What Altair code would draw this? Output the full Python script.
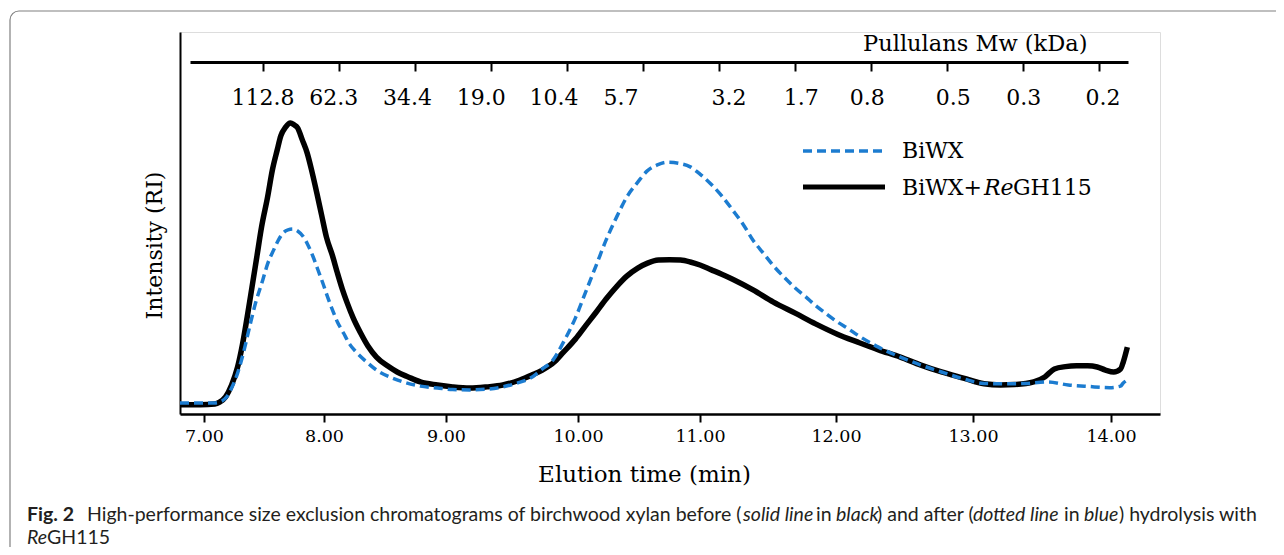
import altair as alt
import pandas as pd

# ---------------- data ----------------
# BiWX (blue dashed)
biwx_time = [6.80, 7.09, 7.15, 7.19, 7.23, 7.28, 7.33, 7.38, 7.43, 7.49, 7.53, 7.58, 7.62, 7.66, 7.70,
             7.74, 7.78, 7.83, 7.87, 7.91, 7.95, 7.99, 8.03, 8.07, 8.11, 8.16, 8.21, 8.27, 8.35, 8.43,
             8.54, 8.65, 8.79, 8.93, 9.05, 9.18, 9.31, 9.43, 9.54, 9.64, 9.73, 9.81, 9.89, 9.98, 10.06,
             10.15, 10.23, 10.32, 10.40, 10.49, 10.57, 10.65, 10.73, 10.83, 10.92, 11.00, 11.08, 11.16,
             11.24, 11.32, 11.39, 11.47, 11.54, 11.63, 11.70, 11.78, 11.85, 11.93, 12.01, 12.09, 12.16,
             12.31, 12.47, 12.62, 12.77, 12.93, 13.08, 13.23, 13.38, 13.54, 13.69, 13.84, 13.99, 14.07,
             14.09, 14.12]
biwx_int = [2.9, 2.9, 3.4, 4.5, 6.8, 10.7, 16.2, 22.8, 29.1, 35.1, 39.3, 42.9, 45.5, 47.4, 48.2,
            48.4, 47.9, 46.3, 44.0, 41.1, 37.7, 34.3, 30.6, 27.2, 24.1, 21.2, 18.3, 16.0, 13.6, 11.5,
            9.7, 8.4, 7.3, 6.8, 6.4, 6.3, 6.5, 7.1, 8.1, 9.4, 11.8, 14.1, 18.8, 25.1, 31.7,
            39.0, 45.5, 51.8, 56.8, 60.7, 63.7, 65.2, 65.9, 65.6, 64.7, 62.8, 60.2, 57.1,
            53.4, 49.5, 45.5, 41.9, 38.8, 35.4, 33.0, 30.6, 28.4, 26.2, 24.1, 22.3, 20.6,
            17.5, 14.9, 12.8, 11.0, 9.2, 8.0, 7.9, 8.0, 8.4, 7.6, 7.2, 6.9, 7.3,
            8.1, 8.9]

# BiWX + ReGH115 (black solid)
re_time = [6.80, 6.97, 7.09, 7.13, 7.18, 7.23, 7.28, 7.32, 7.36, 7.40, 7.44, 7.48, 7.53, 7.57, 7.61,
           7.64, 7.68, 7.72, 7.75, 7.78, 7.82, 7.86, 7.90, 7.94, 7.98, 8.02, 8.07, 8.11, 8.15, 8.19,
           8.24, 8.30, 8.36, 8.43, 8.52, 8.60, 8.69, 8.79, 8.93, 9.05, 9.18, 9.31, 9.43, 9.56, 9.65,
           9.73, 9.82, 9.89, 9.98, 10.06, 10.15, 10.23, 10.32, 10.40, 10.49, 10.57, 10.66, 10.75,
           10.84, 10.92, 11.00, 11.08, 11.16, 11.24, 11.39, 11.54, 11.70, 11.85, 12.01, 12.16, 12.31,
           12.47, 12.62, 12.77, 12.93, 13.08, 13.20, 13.30, 13.44, 13.52, 13.59, 13.67, 13.75, 13.83,
           13.90, 13.96, 14.02, 14.07, 14.09, 14.12]
re_int = [2.4, 2.4, 2.6, 3.1, 4.5, 7.6, 12.3, 18.1, 25.4, 33.2, 41.1, 49.0, 56.8, 63.9, 69.1,
          72.8, 75.1, 76.2, 75.7, 74.9, 71.7, 68.3, 63.4, 57.9, 52.1, 46.3, 41.4, 36.9, 32.7, 29.1,
          25.1, 21.2, 17.8, 14.9, 12.6, 11.0, 9.7, 8.4, 7.6, 7.1, 6.8, 7.1, 7.6, 8.9, 10.2,
          11.5, 13.6, 16.2, 19.6, 23.0, 26.7, 30.1, 33.5, 36.1, 38.2, 39.5, 40.3, 40.4,
          40.3, 39.8, 39.0, 37.8, 36.6, 35.3, 32.5, 29.3, 26.4, 23.6, 20.9, 18.8, 16.8,
          14.9, 12.8, 11.0, 9.4, 7.9, 7.6, 7.7, 8.4, 9.7, 11.8, 12.4, 12.6, 12.6,
          12.3, 11.5, 11.0, 11.8, 13.6, 17.5]

series_names = ["BiWX", "BiWX+ReGH115"]

# bottom axis (elution time); the printed axis is slightly uneven, so a piecewise scale is used
x_tick_values = [7, 8, 9, 10, 11, 12, 13, 14]
x_scale_domain = [6.8, 7, 8, 9, 10, 11, 12, 13, 14, 14.36]
x_scale_range = [0, 24, 144, 266, 398, 520, 656, 793, 931, 980]

# top axis (pullulan standards)
mw_labels = ["112.8", "62.3", "34.4", "19.0", "10.4", "5.7", "3.2", "1.7", "0.8", "0.5", "0.3", "0.2"]
mw_tick_index = list(range(12))
mw_label_pos = [0.0, 0.93, 1.90, 2.87, 3.83, 4.71, 6.13, 7.08, 7.95, 9.08, 10.01, 11.05]

SERIF = "DejaVu Serif"
SANS = "Lato"
BLUE = "#1c7cd0"

df = pd.concat([
    pd.DataFrame({"time": biwx_time, "intensity": biwx_int, "series": series_names[0]}),
    pd.DataFrame({"time": re_time, "intensity": re_int, "series": series_names[1]}),
], ignore_index=True)

mw_df = pd.DataFrame({"label": mw_labels, "pos": mw_label_pos})

W, H = 980, 382

x_enc = alt.X(
    "time:Q",
    scale=alt.Scale(domain=x_scale_domain, range=x_scale_range, nice=False, zero=False),
    axis=alt.Axis(
        values=x_tick_values, format=".2f", grid=False,
        labelFont=SERIF, labelFontSize=17.5, labelColor="black", labelPadding=5, labelFlush=False,
        tickSize=8, tickWidth=2, tickColor="black",
        domainColor="black", domainWidth=2.5,
        title="Elution time (min)", titleFont=SERIF, titleFontSize=23, titleFontWeight="normal",
        titleColor="black", titleX=464, titleY=67, titleBaseline="alphabetic", titleAlign="center",
    ),
)
y_enc = alt.Y(
    "intensity:Q",
    scale=alt.Scale(domain=[0, 100], nice=False, zero=False),
    axis=alt.Axis(
        labels=False, ticks=False, grid=False, domainColor="black", domainWidth=2,
        title="Intensity (RI)", titleFont=SERIF, titleFontSize=22, titleFontWeight="normal",
        titleColor="black", titleX=-26, titleY=213, titleBaseline="middle", titleAlign="center",
    ),
)

black_line = alt.Chart(df).transform_filter(
    alt.datum.series == series_names[1]
).mark_line(color="black", strokeWidth=5.5, interpolate="monotone").encode(x=x_enc, y=y_enc)

blue_line = alt.Chart(df).transform_filter(
    alt.datum.series == series_names[0]
).mark_line(color=BLUE, strokeWidth=3.5, strokeDash=[9, 5], interpolate="monotone").encode(x=x_enc, y=y_enc)

lines = alt.layer(black_line, blue_line)

top_axis = alt.Chart(mw_df).mark_text(
    font=SERIF, fontSize=22, baseline="alphabetic", align="center", color="black"
).encode(
    x=alt.X(
        "pos:Q",
        scale=alt.Scale(domain=[-0.96, 11.38], range=[10, 948], nice=False, zero=False),
        axis=alt.Axis(
            orient="bottom", offset=-352, values=mw_tick_index, labels=False, grid=False,
            tickSize=9, tickWidth=2, tickColor="black", domainColor="black", domainWidth=3,
            title="Pullulans Mw (kDa)", titleFont=SERIF, titleFontSize=22.5, titleFontWeight="normal",
            titleColor="black", titleAlign="right", titleX=907, titleY=-12, titleBaseline="alphabetic",
        ),
    ),
    y=alt.value(73),
    text="label:N",
)


def txt(s, x, y, size, font, style="normal", weight="normal", color="black", align="left"):
    return alt.Chart(pd.DataFrame({"s": [s]})).mark_text(
        font=font, fontSize=size, fontStyle=style, fontWeight=weight, color=color,
        align=align, baseline="alphabetic",
    ).encode(x=alt.value(x), y=alt.value(y), text="s:N")


one = pd.DataFrame({"k": [0]})

border = alt.Chart(one).mark_rect(
    fillOpacity=0, stroke="#808080", strokeWidth=1.2, cornerRadius=9
).encode(x=alt.value(-170), x2=alt.value(1200), y=alt.value(-21), y2=alt.value(600))

leg_blue = alt.Chart(one).mark_rule(color=BLUE, strokeWidth=3.5, strokeDash=[9, 5]).encode(
    x=alt.value(623), x2=alt.value(705), y=alt.value(119))
leg_black = alt.Chart(one).mark_rule(color="black", strokeWidth=5).encode(
    x=alt.value(623), x2=alt.value(705), y=alt.value(155))

LS = 22
legend_parts = [
    leg_blue, leg_black,
    txt("BiWX", 722, 126, LS, SERIF),
    txt("BiWX+", 722, 163, LS, SERIF),
    txt("Re", 804, 163, LS, SERIF, style="italic"),
    txt("GH115", 833, 163, LS, SERIF),
]

CAP = "#231f20"
cs = 19.5
cap_y1, cap_y2 = 489, 512
caption_parts = [
    txt("Fig. 2", -153, cap_y1, cs, SANS, weight="bold", color=CAP),
    txt("High-performance size exclusion chromatograms of birchwood xylan before (", -93, cap_y1, cs, SANS, color=CAP),
    txt("solid line", 563, cap_y1, cs, SANS, style="italic", color=CAP),
    txt("in", 636, cap_y1, cs, SANS, color=CAP),
    txt("black", 656, cap_y1, cs, SANS, style="italic", color=CAP),
    txt(") and after (", 697, cap_y1, cs, SANS, color=CAP),
    txt("dotted line", 793, cap_y1, cs, SANS, style="italic", color=CAP),
    txt("in", 884, cap_y1, cs, SANS, color=CAP),
    txt("blue", 904, cap_y1, cs, SANS, style="italic", color=CAP),
    txt(") hydrolysis with", 939, cap_y1, cs, SANS, color=CAP),
    txt("Re", -153, cap_y2, cs, SANS, style="italic", color=CAP),
    txt("GH115", -133, cap_y2, cs, SANS, color=CAP),
]

chart = alt.layer(
    border, lines, top_axis, *legend_parts, *caption_parts
).resolve_scale(x="independent").properties(
    width=W, height=H,
    autosize=alt.AutoSizeParams(type="none"),
    padding={"left": 172, "top": 24, "right": 116, "bottom": 133},
).configure_view(stroke=None).configure(background="white")

chart.save("out.html", embed_options={"renderer": "svg", "actions": False})
